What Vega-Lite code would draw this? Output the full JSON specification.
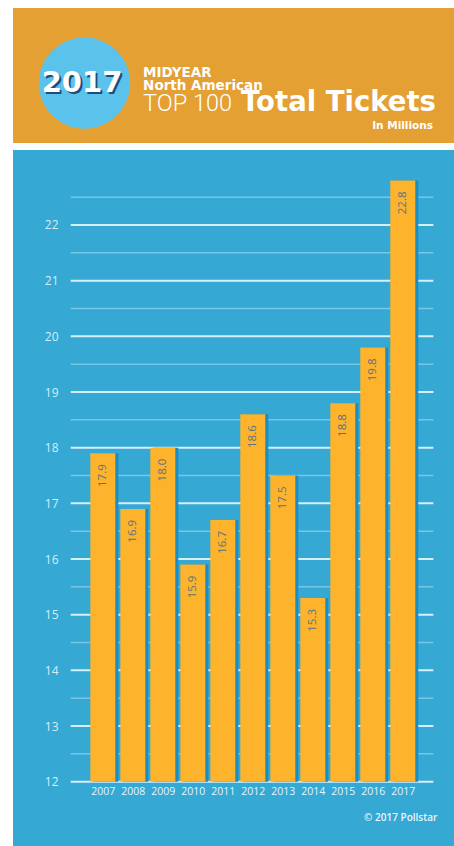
{
  "$schema": "https://vega.github.io/schema/vega-lite/v6.json",
  "background": "white",
  "padding": {"left": 13, "top": 8, "right": 0, "bottom": 0},
  "spacing": 7,
  "config": {"view": {"stroke": null}, "font": "Open Sans"},
  "datasets": {
    "bars": [
      {"year": 2007, "value": 17.9},
      {"year": 2008, "value": 16.9},
      {"year": 2009, "value": 18.0},
      {"year": 2010, "value": 15.9},
      {"year": 2011, "value": 16.7},
      {"year": 2012, "value": 18.6},
      {"year": 2013, "value": 17.5},
      {"year": 2014, "value": 15.3},
      {"year": 2015, "value": 18.8},
      {"year": 2016, "value": 19.8},
      {"year": 2017, "value": 22.8}
    ],
    "major": [{"v": 12}, {"v": 13}, {"v": 14}, {"v": 15}, {"v": 16}, {"v": 17}, {"v": 18}, {"v": 19}, {"v": 20}, {"v": 21}, {"v": 22}],
    "minor": [{"v": 12.5}, {"v": 13.5}, {"v": 14.5}, {"v": 15.5}, {"v": 16.5}, {"v": 17.5}, {"v": 18.5}, {"v": 19.5}, {"v": 20.5}, {"v": 21.5}, {"v": 22.5}],
    "one": [{"k": 1}]
  },
  "vconcat": [
    {
      "width": 441,
      "height": 135,
      "view": {"fill": "#E5A034", "stroke": null},
      "data": {"name": "one"},
      "layer": [
        {
          "mark": {"type": "circle", "size": 8330, "color": "#5BC2EC", "opacity": 1},
          "encoding": {
            "x": {"datum": 16.2, "type": "quantitative", "scale": {"domain": [0, 100], "nice": false, "zero": false}, "axis": null},
            "y": {"datum": 55.6, "type": "quantitative", "scale": {"domain": [0, 100], "nice": false, "zero": false, "reverse": true}, "axis": null}
          }
        },
        {
          "mark": {"type": "text", "text": "2017", "font": "DejaVu Sans", "fontWeight": "bold", "fontSize": 29, "color": "#1B4E7C", "align": "center", "baseline": "alphabetic", "dx": 2, "dy": 2},
          "encoding": {
            "x": {"datum": 15.65, "type": "quantitative", "scale": {"domain": [0, 100], "nice": false, "zero": false}, "axis": null},
            "y": {"datum": 62.2, "type": "quantitative", "scale": {"domain": [0, 100], "nice": false, "zero": false, "reverse": true}, "axis": null}
          }
        },
        {
          "mark": {"type": "text", "text": "2017", "font": "DejaVu Sans", "fontWeight": "bold", "fontSize": 29, "color": "white", "align": "center", "baseline": "alphabetic"},
          "encoding": {
            "x": {"datum": 15.65, "type": "quantitative", "scale": {"domain": [0, 100], "nice": false, "zero": false}, "axis": null},
            "y": {"datum": 62.2, "type": "quantitative", "scale": {"domain": [0, 100], "nice": false, "zero": false, "reverse": true}, "axis": null}
          }
        },
        {
          "mark": {"type": "text", "text": "MIDYEAR", "font": "DejaVu Sans", "fontWeight": "bold", "fontSize": 13.5, "color": "white", "align": "left", "baseline": "alphabetic"},
          "encoding": {
            "x": {"datum": 29.5, "type": "quantitative", "scale": {"domain": [0, 100], "nice": false, "zero": false}, "axis": null},
            "y": {"datum": 51.1, "type": "quantitative", "scale": {"domain": [0, 100], "nice": false, "zero": false, "reverse": true}, "axis": null}
          }
        },
        {
          "mark": {"type": "text", "text": "North American", "font": "DejaVu Sans", "fontWeight": "bold", "fontSize": 13.5, "color": "white", "align": "left", "baseline": "alphabetic"},
          "encoding": {
            "x": {"datum": 29.5, "type": "quantitative", "scale": {"domain": [0, 100], "nice": false, "zero": false}, "axis": null},
            "y": {"datum": 61.1, "type": "quantitative", "scale": {"domain": [0, 100], "nice": false, "zero": false, "reverse": true}, "axis": null}
          }
        },
        {
          "mark": {"type": "text", "text": "TOP 100", "font": "Roboto", "fontWeight": 300, "fontSize": 23.5, "color": "white", "align": "left", "baseline": "alphabetic"},
          "encoding": {
            "x": {"datum": 29.5, "type": "quantitative", "scale": {"domain": [0, 100], "nice": false, "zero": false}, "axis": null},
            "y": {"datum": 76.3, "type": "quantitative", "scale": {"domain": [0, 100], "nice": false, "zero": false, "reverse": true}, "axis": null}
          }
        },
        {
          "mark": {"type": "text", "text": "Total Tickets", "font": "DejaVu Sans", "fontWeight": "bold", "fontSize": 27.5, "color": "white", "align": "left", "baseline": "alphabetic"},
          "encoding": {
            "x": {"datum": 51.7, "type": "quantitative", "scale": {"domain": [0, 100], "nice": false, "zero": false}, "axis": null},
            "y": {"datum": 76.3, "type": "quantitative", "scale": {"domain": [0, 100], "nice": false, "zero": false, "reverse": true}, "axis": null}
          }
        },
        {
          "mark": {"type": "text", "text": "In Millions", "font": "DejaVu Sans", "fontWeight": "bold", "fontSize": 10.5, "color": "white", "align": "right", "baseline": "alphabetic"},
          "encoding": {
            "x": {"datum": 95.24, "type": "quantitative", "scale": {"domain": [0, 100], "nice": false, "zero": false}, "axis": null},
            "y": {"datum": 89.6, "type": "quantitative", "scale": {"domain": [0, 100], "nice": false, "zero": false, "reverse": true}, "axis": null}
          }
        }
      ]
    },
    {
      "width": 441,
      "height": 696,
      "view": {"fill": "#35A8D4", "stroke": null},
      "layer": [
        {
          "data": {"name": "minor"},
          "mark": {"type": "rule", "color": "#78C6E6", "strokeWidth": 1.5},
          "encoding": {
            "y": {"field": "v", "type": "quantitative", "scale": {"domain": [10.845, 23.347], "nice": false, "zero": false},
              "axis": {"title": null, "values": [12, 13, 14, 15, 16, 17, 18, 19, 20, 21, 22], "offset": -48, "domain": false, "ticks": false, "tickSize": 0, "grid": false, "labelPadding": 3, "labelFontSize": 12, "labelColor": "#D4EEF9", "labelFont": "Open Sans", "labelFlush": false, "labelOverlap": false}},
            "x": {"datum": 2005.93, "type": "quantitative", "scale": {"domain": [2004.172, 2018.541], "nice": false, "zero": false},
              "axis": {"title": null, "values": [2007, 2008, 2009, 2010, 2011, 2012, 2013, 2014, 2015, 2016, 2017], "format": "d", "offset": -64.3, "domain": false, "ticks": false, "tickSize": 0, "grid": false, "labelPadding": 5, "labelFontSize": 10.5, "labelColor": "#E6F5FC", "labelFlush": false, "labelOverlap": false, "labelFont": "Open Sans"}},
            "x2": {"datum": 2018.02}
          }
        },
        {
          "data": {"name": "major"},
          "mark": {"type": "rule", "color": "#D6F0FB", "strokeWidth": 2},
          "encoding": {
            "y": {"field": "v", "type": "quantitative", "scale": {"domain": [10.845, 23.347], "nice": false, "zero": false},
              "axis": {"title": null, "values": [12, 13, 14, 15, 16, 17, 18, 19, 20, 21, 22], "offset": -48, "domain": false, "ticks": false, "tickSize": 0, "grid": false, "labelPadding": 3, "labelFontSize": 12, "labelColor": "#D4EEF9", "labelFont": "Open Sans", "labelFlush": false, "labelOverlap": false}},
            "x": {"datum": 2005.93, "type": "quantitative", "scale": {"domain": [2004.172, 2018.541], "nice": false, "zero": false},
              "axis": {"title": null, "values": [2007, 2008, 2009, 2010, 2011, 2012, 2013, 2014, 2015, 2016, 2017], "format": "d", "offset": -64.3, "domain": false, "ticks": false, "tickSize": 0, "grid": false, "labelPadding": 5, "labelFontSize": 10.5, "labelColor": "#E6F5FC", "labelFlush": false, "labelOverlap": false, "labelFont": "Open Sans"}},
            "x2": {"datum": 2018.02}
          }
        },
        {
          "data": {"name": "bars"},
          "mark": {"type": "bar", "width": 25, "color": "#1E8CBE", "xOffset": 3},
          "encoding": {
            "x": {"field": "year", "type": "quantitative", "scale": {"domain": [2004.172, 2018.541], "nice": false, "zero": false},
              "axis": {"title": null, "values": [2007, 2008, 2009, 2010, 2011, 2012, 2013, 2014, 2015, 2016, 2017], "format": "d", "offset": -64.3, "domain": false, "ticks": false, "tickSize": 0, "grid": false, "labelPadding": 5, "labelFontSize": 10.5, "labelColor": "#E6F5FC", "labelFlush": false, "labelOverlap": false, "labelFont": "Open Sans"}},
            "y": {"field": "value", "type": "quantitative", "scale": {"domain": [10.845, 23.347], "nice": false, "zero": false},
              "axis": {"title": null, "values": [12, 13, 14, 15, 16, 17, 18, 19, 20, 21, 22], "offset": -48, "domain": false, "ticks": false, "tickSize": 0, "grid": false, "labelPadding": 3, "labelFontSize": 12, "labelColor": "#D4EEF9", "labelFont": "Open Sans", "labelFlush": false, "labelOverlap": false}},
            "y2": {"datum": 12}
          }
        },
        {
          "data": {"name": "bars"},
          "mark": {"type": "bar", "width": 25, "color": "#FDB32B"},
          "encoding": {
            "x": {"field": "year", "type": "quantitative", "scale": {"domain": [2004.172, 2018.541], "nice": false, "zero": false},
              "axis": {"title": null, "values": [2007, 2008, 2009, 2010, 2011, 2012, 2013, 2014, 2015, 2016, 2017], "format": "d", "offset": -64.3, "domain": false, "ticks": false, "tickSize": 0, "grid": false, "labelPadding": 5, "labelFontSize": 10.5, "labelColor": "#E6F5FC", "labelFlush": false, "labelOverlap": false, "labelFont": "Open Sans"}},
            "y": {"field": "value", "type": "quantitative", "scale": {"domain": [10.845, 23.347], "nice": false, "zero": false},
              "axis": {"title": null, "values": [12, 13, 14, 15, 16, 17, 18, 19, 20, 21, 22], "offset": -48, "domain": false, "ticks": false, "tickSize": 0, "grid": false, "labelPadding": 3, "labelFontSize": 12, "labelColor": "#D4EEF9", "labelFont": "Open Sans", "labelFlush": false, "labelOverlap": false}},
            "y2": {"datum": 12}
          }
        },
        {
          "data": {"name": "bars"},
          "mark": {"type": "text", "angle": 270, "align": "right", "baseline": "middle", "dx": -11, "fontSize": 11.5, "color": "#5B7384", "font": "Open Sans"},
          "encoding": {
            "x": {"field": "year", "type": "quantitative", "scale": {"domain": [2004.172, 2018.541], "nice": false, "zero": false},
              "axis": {"title": null, "values": [2007, 2008, 2009, 2010, 2011, 2012, 2013, 2014, 2015, 2016, 2017], "format": "d", "offset": -64.3, "domain": false, "ticks": false, "tickSize": 0, "grid": false, "labelPadding": 5, "labelFontSize": 10.5, "labelColor": "#E6F5FC", "labelFlush": false, "labelOverlap": false, "labelFont": "Open Sans"}},
            "y": {"field": "value", "type": "quantitative", "scale": {"domain": [10.845, 23.347], "nice": false, "zero": false},
              "axis": {"title": null, "values": [12, 13, 14, 15, 16, 17, 18, 19, 20, 21, 22], "offset": -48, "domain": false, "ticks": false, "tickSize": 0, "grid": false, "labelPadding": 3, "labelFontSize": 12, "labelColor": "#D4EEF9", "labelFont": "Open Sans", "labelFlush": false, "labelOverlap": false}},
            "text": {"field": "value", "type": "quantitative", "format": ".1f"}
          }
        },
        {
          "data": {"name": "one"},
          "mark": {"type": "text", "text": "© 2017 Pollstar", "align": "right", "baseline": "alphabetic", "fontSize": 10, "fontWeight": 600, "color": "#EAF6FC", "font": "Open Sans"},
          "encoding": {
            "x": {"datum": 2018.15, "type": "quantitative", "scale": {"domain": [2004.172, 2018.541], "nice": false, "zero": false},
              "axis": {"title": null, "values": [2007, 2008, 2009, 2010, 2011, 2012, 2013, 2014, 2015, 2016, 2017], "format": "d", "offset": -64.3, "domain": false, "ticks": false, "tickSize": 0, "grid": false, "labelPadding": 5, "labelFontSize": 10.5, "labelColor": "#E6F5FC", "labelFlush": false, "labelOverlap": false, "labelFont": "Open Sans"}},
            "y": {"datum": 11.3, "type": "quantitative", "scale": {"domain": [10.845, 23.347], "nice": false, "zero": false},
              "axis": {"title": null, "values": [12, 13, 14, 15, 16, 17, 18, 19, 20, 21, 22], "offset": -48, "domain": false, "ticks": false, "tickSize": 0, "grid": false, "labelPadding": 3, "labelFontSize": 12, "labelColor": "#D4EEF9", "labelFont": "Open Sans", "labelFlush": false, "labelOverlap": false}}
          }
        }
      ]
    }
  ]
}
